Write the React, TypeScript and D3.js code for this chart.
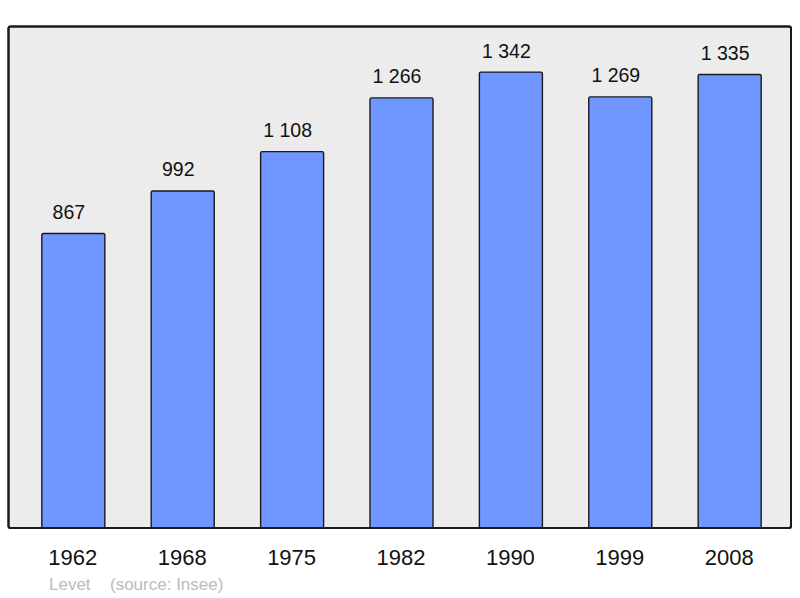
import React from "react";
import * as d3 from "d3";

const years = ["1962", "1968", "1975", "1982", "1990", "1999", "2008"];
const population = [867, 992, 1108, 1266, 1342, 1269, 1335];
const place = "Levet";
const source = "(source: Insee)";

const fr = d3.formatLocale({ decimal: ",", thousands: " ", grouping: [3], currency: ["", " €"] });
const fmt = fr.format(",d");

const App = () => {
  const width = 800;
  const height = 598;
  const panel = { left: 8.5, top: 26.5, right: 791, bottom: 528 };

  const x = d3.scaleBand<string>()
    .domain(years)
    .range([9, 794])
    .paddingInner(0.424)
    .paddingOuter(0.3);

  const y = d3.scaleLinear()
    .domain([0, (d3.max(population) as number) * 1.1])
    .range([panel.bottom, panel.top]);

  return (
    <svg width={width} height={height} style={{ position: "absolute", left: 0, top: 0 }}
      fontFamily="'Liberation Sans', Arial, sans-serif">
      <rect x={panel.left} y={panel.top} width={panel.right - panel.left} height={panel.bottom - panel.top}
        rx={2} fill="#ececec" stroke="#1a1a1a" strokeWidth={2} />
      {years.map((yr, i) => {
        const v = population[i];
        const bx = x(yr) as number;
        const cx = bx + x.bandwidth() / 2;
        return (
          <g key={yr}>
            <rect x={bx} y={y(v)} width={x.bandwidth()} height={panel.bottom - y(v)}
              rx={1.5} fill="#7096ff" stroke="#1a1a1a" strokeWidth={1.4} />
            {/* value labels sit a little left of the bar centre in the source */}
            <text x={cx - 4.5} y={y(v) - 14.5} textAnchor="middle" fontSize={19.5} fill="#111">
              {fmt(v)}
            </text>
            <text x={cx - 0.5} y={565} textAnchor="middle" fontSize={22} fill="#111">
              {yr}
            </text>
          </g>
        );
      })}
      <rect x={panel.left} y={panel.top} width={panel.right - panel.left} height={panel.bottom - panel.top}
        rx={2} fill="none" stroke="#1a1a1a" strokeWidth={2} />
      <text x={49} y={590} fontSize={17} fill="#bbbbbb">{place}</text>
      <text x={110} y={590} fontSize={17} fill="#bbbbbb">{source}</text>
    </svg>
  );
};

export default App;
